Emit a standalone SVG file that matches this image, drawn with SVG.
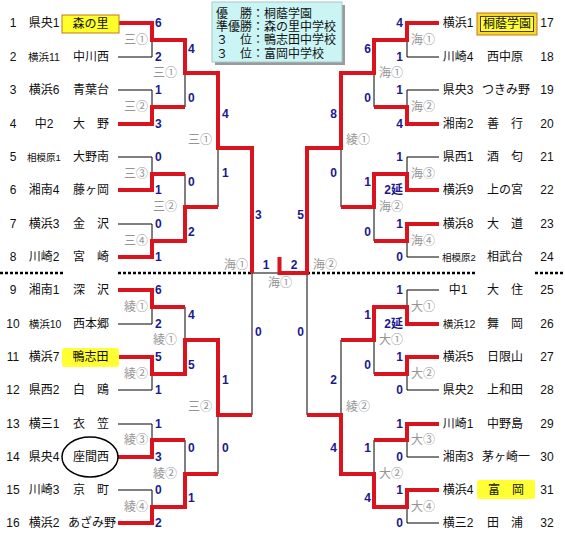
<svg xmlns="http://www.w3.org/2000/svg" width="565" height="542" viewBox="0 0 565 542">
<style>
text{font-family:"Liberation Sans","Noto Sans CJK JP",sans-serif;font-size:12px;fill:#111}
.n{text-anchor:middle}
.r{text-anchor:middle}
.rs{text-anchor:middle;font-size:10.5px}
.rt{text-anchor:middle;font-size:9.5px}
.s{text-anchor:middle}
.sc{font-weight:bold;fill:#1a1a8e}
.scl{font-weight:bold;fill:#1a1a8e;text-anchor:start}
.scr{font-weight:bold;fill:#1a1a8e;text-anchor:end}
.lb{fill:#959595;text-anchor:middle}
.blk{stroke:#000;stroke-width:1;fill:none}
.red{stroke:#d9141e;stroke-width:4;fill:none;stroke-linejoin:miter}
.dot{stroke:#000;stroke-width:2.5;stroke-dasharray:3 2;fill:none}
</style>
<rect width="565" height="542" fill="#fff"/>
<g id="legend">
<rect x="215" y="5" width="130" height="60" fill="#9a9a9a"/>
<rect x="212" y="2" width="130" height="60" fill="#cbf5f5" stroke="#a8c8c8" stroke-width="1"/>
<text x="216" y="17.5">優　勝：桐蔭学園</text>
<text x="216" y="30.5">準優勝：森の里中学校</text>
<text x="216" y="44">３　位：鴨志田中学校</text>
<text x="216" y="57.5">３　位：富岡中学校</text>
</g>
<g id="connectors">
<path class="dot" d="M0 273H63M118 273H252M307 273H477M535 273H565"/>
<path class="blk" d="M118 23H152V57H118M118 90H152V124H118M118 157H152V190H118M118 224H152V257H118M118 290H152V324H118M118 357H152V390H118M118 424H152V457H118M118 490H152V523H118"/>
<path class="blk" d="M185 40V107M185 174V241M185 307V374M185 440V507M218 73V207M218 340V474M252 148V415M252 273H307M307 148V415M341 73V207M341 340V474M374 40V107M374 174V241M374 307V374M374 440V507"/>
<path class="blk" d="M439 23H407V57H439M439 90H407V124H439M439 157H407V190H439M439 224H407V257H439M439 290H407V324H439M439 357H407V390H439M439 424H407V457H439M439 490H407V523H439"/>
<path class="red" d="M118 23H152V40H185V73H218V148H252V273"/>
<path class="red" d="M118 124H152V107H185"/>
<path class="red" d="M118 190H152V174H185"/>
<path class="red" d="M118 257H152V241H185V207H218"/>
<path class="red" d="M118 290H152V307H185"/>
<path class="red" d="M118 357H152V374H185V340H218V415H252"/>
<path class="red" d="M118 457H152V440H185"/>
<path class="red" d="M118 523H152V507H185V474H218"/>
<path class="red" d="M439 23H407V40H374V73H341V148H307V273H279.5V257"/>
<path class="red" d="M439 124H407V107H374"/>
<path class="red" d="M439 190H407V174H374V207H341"/>
<path class="red" d="M439 224H407V241H374"/>
<path class="red" d="M439 324H407V307H374V340H341"/>
<path class="red" d="M439 357H407V374H374"/>
<path class="red" d="M439 424H407V440H374"/>
<path class="red" d="M439 490H407V507H374V474H341V415H307"/>
</g>
<g id="scores">
<text class="scl" x="155" y="27">6</text><text class="scl" x="155" y="61">2</text>
<text class="scl" x="155" y="94">1</text><text class="scl" x="155" y="128">3</text>
<text class="scl" x="155" y="161">0</text><text class="scl" x="155" y="194">1</text>
<text class="scl" x="155" y="228">0</text><text class="scl" x="155" y="261">1</text>
<text class="scl" x="155" y="294">6</text><text class="scl" x="155" y="328">2</text>
<text class="scl" x="155" y="361">5</text><text class="scl" x="155" y="394">1</text>
<text class="scl" x="155" y="428">1</text><text class="scl" x="155" y="461">3</text>
<text class="scl" x="155" y="494">0</text><text class="scl" x="155" y="527">2</text>
<text class="scr" x="403" y="27">4</text><text class="scr" x="403" y="61">1</text>
<text class="scr" x="403" y="94">1</text><text class="scr" x="403" y="128">4</text>
<text class="scr" x="403" y="161">1</text><text class="scr" x="403" y="194">2延</text>
<text class="scr" x="403" y="228">1</text><text class="scr" x="403" y="261">0</text>
<text class="scr" x="403" y="294">1</text><text class="scr" x="403" y="328">2延</text>
<text class="scr" x="403" y="361">1</text><text class="scr" x="403" y="394">0</text>
<text class="scr" x="403" y="428">1</text><text class="scr" x="403" y="461">0</text>
<text class="scr" x="403" y="494">1</text><text class="scr" x="403" y="527">0</text>
<text class="scl" x="188" y="53">4</text><text class="scl" x="188" y="102">0</text>
<text class="scl" x="188" y="186">0</text><text class="scl" x="188" y="236">2</text>
<text class="scl" x="188" y="319">4</text><text class="scl" x="188" y="369">5</text>
<text class="scl" x="188" y="452">0</text><text class="scl" x="188" y="502">1</text>
<text class="scr" x="371" y="53">6</text><text class="scr" x="371" y="102">0</text>
<text class="scr" x="371" y="186">1</text><text class="scr" x="371" y="236">0</text>
<text class="scr" x="371" y="319">1</text><text class="scr" x="371" y="369">0</text>
<text class="scr" x="371" y="452">1</text><text class="scr" x="371" y="502">4</text>
<text class="scl" x="222" y="118">4</text><text class="scl" x="222" y="177">1</text>
<text class="scl" x="222" y="384">1</text><text class="scl" x="222" y="452">0</text>
<text class="scr" x="337" y="118">8</text><text class="scr" x="337" y="177">0</text>
<text class="scr" x="337" y="384">2</text><text class="scr" x="337" y="452">4</text>
<text class="scl" x="255" y="219">3</text><text class="scl" x="255" y="336">0</text>
<text class="scr" x="304" y="219">5</text><text class="scr" x="304" y="336">0</text>
<text class="sc" x="266" y="269" text-anchor="middle">1</text>
<text class="sc" x="294" y="269" text-anchor="middle">2</text>
</g>
<g id="match-labels">
<text class="lb" x="136" y="44">三①</text><text class="lb" x="136" y="111">三②</text>
<text class="lb" x="136" y="178">三③</text><text class="lb" x="136" y="245">三④</text>
<text class="lb" x="136" y="311">綾①</text><text class="lb" x="136" y="378">綾②</text>
<text class="lb" x="136" y="444">綾③</text><text class="lb" x="136" y="511">綾④</text>
<text class="lb" x="165" y="77">三①</text><text class="lb" x="165" y="211">三②</text>
<text class="lb" x="165" y="344">綾①</text><text class="lb" x="165" y="478">綾②</text>
<text class="lb" x="200" y="144">三①</text><text class="lb" x="200" y="411">三②</text>
<text class="lb" x="236" y="269">海①</text><text class="lb" x="325" y="269">海②</text>
<text class="lb" x="280" y="287">海①</text>
<text class="lb" x="358" y="144">綾①</text><text class="lb" x="358" y="411">綾②</text>
<text class="lb" x="391" y="77">海①</text><text class="lb" x="391" y="211">海②</text>
<text class="lb" x="391" y="344">大①</text><text class="lb" x="391" y="478">大②</text>
<text class="lb" x="423" y="44">海①</text><text class="lb" x="423" y="111">海②</text>
<text class="lb" x="423" y="178">海③</text><text class="lb" x="423" y="245">海④</text>
<text class="lb" x="423" y="311">大①</text><text class="lb" x="423" y="378">大②</text>
<text class="lb" x="423" y="444">大③</text><text class="lb" x="423" y="511">大④</text>
</g>
<g id="t1"><text class="n" x="13" y="27">1</text><text class="r" x="44" y="27">県央1</text><rect x="62" y="15" width="57" height="18" fill="#ffff2a" stroke="#c47a18"/><text class="s" x="90.5" y="28">森の里</text></g>
<g id="t2"><text class="n" x="13" y="61">2</text><text class="rs" x="44" y="61">横浜11</text><text class="s" x="91" y="61">中川西</text></g>
<g id="t3"><text class="n" x="13" y="94">3</text><text class="r" x="44" y="94">横浜6</text><text class="s" x="91" y="94">青葉台</text></g>
<g id="t4"><text class="n" x="13" y="128">4</text><text class="r" x="44" y="128">中2</text><text class="s" x="91" y="128">大　野</text></g>
<g id="t5"><text class="n" x="13" y="161">5</text><text class="rt" x="44" y="161">相模原1</text><text class="s" x="91" y="161">大野南</text></g>
<g id="t6"><text class="n" x="13" y="194">6</text><text class="r" x="44" y="194">湘南4</text><text class="s" x="91" y="194">藤ヶ岡</text></g>
<g id="t7"><text class="n" x="13" y="228">7</text><text class="r" x="44" y="228">横浜3</text><text class="s" x="91" y="228">金　沢</text></g>
<g id="t8"><text class="n" x="13" y="261">8</text><text class="r" x="44" y="261">川崎2</text><text class="s" x="91" y="261">宮　崎</text></g>
<g id="t9"><text class="n" x="13" y="294">9</text><text class="r" x="44" y="294">湘南1</text><text class="s" x="91" y="294">深　沢</text></g>
<g id="t10"><text class="n" x="13" y="328">10</text><text class="rs" x="45" y="328">横浜10</text><text class="s" x="91" y="328">西本郷</text></g>
<g id="t11"><text class="n" x="13" y="361">11</text><text class="r" x="44" y="361">横浜7</text><rect x="62" y="348" width="57" height="19" rx="3" fill="#ffff33"/><text class="s" x="90.5" y="361">鴨志田</text></g>
<g id="t12"><text class="n" x="13" y="394">12</text><text class="r" x="44" y="394">県西2</text><text class="s" x="91" y="394">白　鴎</text></g>
<g id="t13"><text class="n" x="13" y="428">13</text><text class="r" x="44" y="428">横三1</text><text class="s" x="91" y="428">衣　笠</text></g>
<g id="t14"><text class="n" x="13" y="461">14</text><text class="r" x="44" y="461">県央4</text><ellipse cx="90" cy="457" rx="28" ry="20" fill="none" stroke="#000" stroke-width="1.5"/><text class="s" x="91" y="461">座間西</text></g>
<g id="t15"><text class="n" x="13" y="494">15</text><text class="r" x="44" y="494">川崎3</text><text class="s" x="91" y="494">京　町</text></g>
<g id="t16"><text class="n" x="13" y="527">16</text><text class="r" x="44" y="527">横浜2</text><text class="s" x="92" y="527">あざみ野</text></g>
<g id="t17"><text class="r" x="458" y="27">横浜1</text><rect x="477" y="13" width="60" height="22" fill="#f5d830" stroke="#c47a18"/><rect x="480.5" y="16.5" width="53" height="15" fill="#ffff33" stroke="#5a3a00"/><text class="s" x="507" y="28">桐蔭学園</text><text class="n" x="547" y="27">17</text></g>
<g id="t18"><text class="r" x="458" y="61">川崎4</text><text class="s" x="505" y="61">西中原</text><text class="n" x="547" y="61">18</text></g>
<g id="t19"><text class="r" x="458" y="94">県央3</text><text class="s" x="506" y="94">つきみ野</text><text class="n" x="547" y="94">19</text></g>
<g id="t20"><text class="r" x="458" y="128">湘南2</text><text class="s" x="505" y="128">善　行</text><text class="n" x="547" y="128">20</text></g>
<g id="t21"><text class="r" x="458" y="161">県西1</text><text class="s" x="505" y="161">酒　匂</text><text class="n" x="547" y="161">21</text></g>
<g id="t22"><text class="r" x="458" y="194">横浜9</text><text class="s" x="505" y="194">上の宮</text><text class="n" x="547" y="194">22</text></g>
<g id="t23"><text class="r" x="458" y="228">横浜8</text><text class="s" x="505" y="228">大　道</text><text class="n" x="547" y="228">23</text></g>
<g id="t24"><text class="rt" x="459" y="261">相模原2</text><text class="s" x="505" y="261">相武台</text><text class="n" x="547" y="261">24</text></g>
<g id="t25"><text class="r" x="458" y="294">中1</text><text class="s" x="505" y="294">大　住</text><text class="n" x="547" y="294">25</text></g>
<g id="t26"><text class="rs" x="459" y="328">横浜12</text><text class="s" x="505" y="328">舞　岡</text><text class="n" x="547" y="328">26</text></g>
<g id="t27"><text class="r" x="458" y="361">横浜5</text><text class="s" x="505" y="361">日限山</text><text class="n" x="547" y="361">27</text></g>
<g id="t28"><text class="r" x="458" y="394">県央2</text><text class="s" x="505" y="394">上和田</text><text class="n" x="547" y="394">28</text></g>
<g id="t29"><text class="r" x="458" y="428">川崎1</text><text class="s" x="505" y="428">中野島</text><text class="n" x="547" y="428">29</text></g>
<g id="t30"><text class="r" x="458" y="461">湘南3</text><text class="s" x="506" y="461">茅ヶ崎一</text><text class="n" x="547" y="461">30</text></g>
<g id="t31"><text class="r" x="458" y="494">横浜4</text><rect x="477" y="480" width="58" height="19" rx="2" fill="#ffff33"/><text class="s" x="506" y="494">富　岡</text><text class="n" x="547" y="494">31</text></g>
<g id="t32"><text class="r" x="458" y="527">横三2</text><text class="s" x="505" y="527">田　浦</text><text class="n" x="547" y="527">32</text></g>
</svg>
